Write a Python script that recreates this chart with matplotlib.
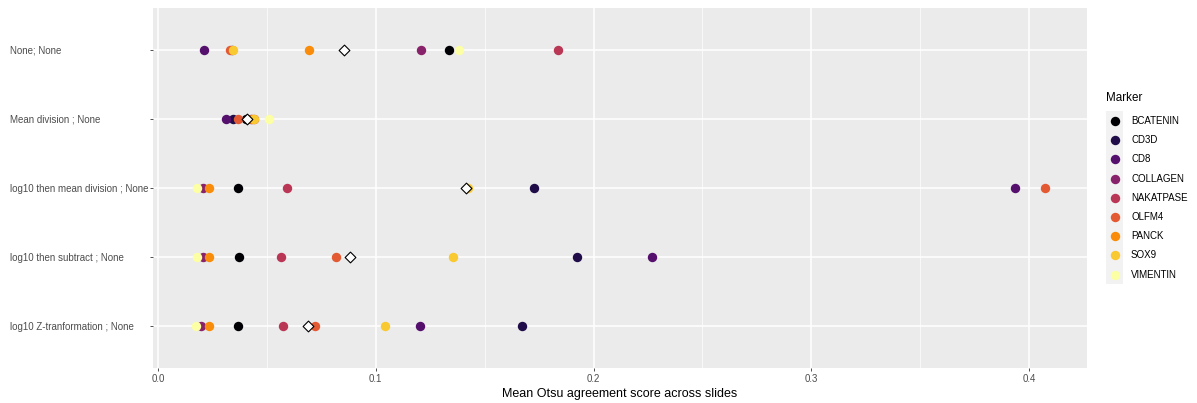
import numpy as np
import matplotlib
matplotlib.use("Agg")
import matplotlib.pyplot as plt
from matplotlib.patches import Rectangle

plt.rcParams['font.family'] = ['Liberation Sans', 'DejaVu Sans']

# Normalisation methods (top to bottom)
methods = [
    "None; None",
    "Mean division ; None",
    "log10 then mean division ; None",
    "log10 then subtract ; None",
    "log10 Z-tranformation ; None",
]

markers = ["BCATENIN", "CD3D", "CD8", "COLLAGEN", "NAKATPASE",
           "OLFM4", "PANCK", "SOX9", "VIMENTIN"]

# Mean Otsu agreement score per marker, one list per method (order = markers)
score_none = [0.1336, 0.0340, 0.0213, 0.1209, 0.1837, 0.0331, 0.0693, 0.0346, 0.1382]
score_mean_div = [0.0405, 0.0346, 0.0311, 0.0425, 0.0440, 0.0369, 0.0432, 0.0441, 0.0510]
score_log_mean_div = [0.0367, 0.1725, 0.3936, 0.0208, 0.0592, 0.4073, 0.0234, 0.1425, 0.0179]
score_log_subtract = [0.0372, 0.1923, 0.2269, 0.0208, 0.0566, 0.0819, 0.0233, 0.1353, 0.0179]
score_log_z = [0.0367, 0.1672, 0.1205, 0.0197, 0.0573, 0.0721, 0.0234, 0.1041, 0.0176]

scores = [score_none, score_mean_div, score_log_mean_div,
          score_log_subtract, score_log_z]

# inferno palette, 9 levels
palette = ["#000004", "#1F0C48", "#550F6D", "#88226A", "#BA3655",
           "#E35932", "#F98C0A", "#F9C932", "#FCFFA4"]

W, H = 1197, 403
fig = plt.figure(figsize=(W / 100, H / 100), dpi=100)
ax = fig.add_axes([153 / W, 1 - 368 / H, (1087 - 153) / W, (368 - 8) / H])
ax.set_facecolor("#EBEBEB")

# grid
for x in [0.05, 0.15, 0.25, 0.35]:
    ax.axvline(x, color="white", lw=0.5, zorder=0)
for x in [0.0, 0.1, 0.2, 0.3, 0.4]:
    ax.axvline(x, color="white", lw=1.1, zorder=0)
for i in range(len(methods)):
    ax.axhline(i, color="white", lw=1.1, zorder=0)

# points: markers drawn in order so later ones sit on top
for i, vals in enumerate(scores):
    for j, v in enumerate(vals):
        ax.scatter(v, i, s=46, color=palette[j], linewidths=0, zorder=2)
    ax.scatter(np.mean(vals), i, s=30, marker="D", facecolor="white",
               edgecolor="black", linewidths=0.8, zorder=3)

ax.set_xlim(-0.0023, 0.4266)
ax.set_ylim(len(methods) - 1 + 0.6, -0.6)
ax.set_yticks(range(len(methods)))
ax.set_yticklabels(methods, fontsize=7, color="#4D4D4D", ha="left")
ax.set_xticks([0.0, 0.1, 0.2, 0.3, 0.4])
ax.set_xticklabels(["0.0", "0.1", "0.2", "0.3", "0.4"], fontsize=7, color="#4D4D4D")
tick_len = 2.5
ax.tick_params(axis="both", length=tick_len, width=0.6, color="#333333")
ax.tick_params(axis="x", pad=2)
# left-aligned category labels starting 143 px left of the panel
ax.tick_params(axis="y", pad=143 * 0.72 - tick_len)
for sp in ax.spines.values():
    sp.set_visible(False)
ax.set_xlabel("Mean Otsu agreement score across slides", fontsize=9, color="black", labelpad=3)

# legend drawn on an overlay in pixel coordinates
lax = fig.add_axes([0, 0, 1, 1], facecolor="none")
lax.set_xlim(0, W)
lax.set_ylim(H, 0)
lax.axis("off")
lax.text(1106, 98, "Marker", fontsize=8.4, ha="left", va="center")
step = 19.2
y0 = 121
lax.add_patch(Rectangle((1106, y0 - step / 2), 17, step * len(markers),
                        facecolor="#F2F2F2", edgecolor="none"))
for k, (m, c) in enumerate(zip(markers, palette)):
    y = y0 + k * step
    lax.scatter(1114.5, y, s=46, color=c, linewidths=0)
    lax.text(1131, y, m, fontsize=7, ha="left", va="center")

fig.savefig("out.png", dpi=100)
